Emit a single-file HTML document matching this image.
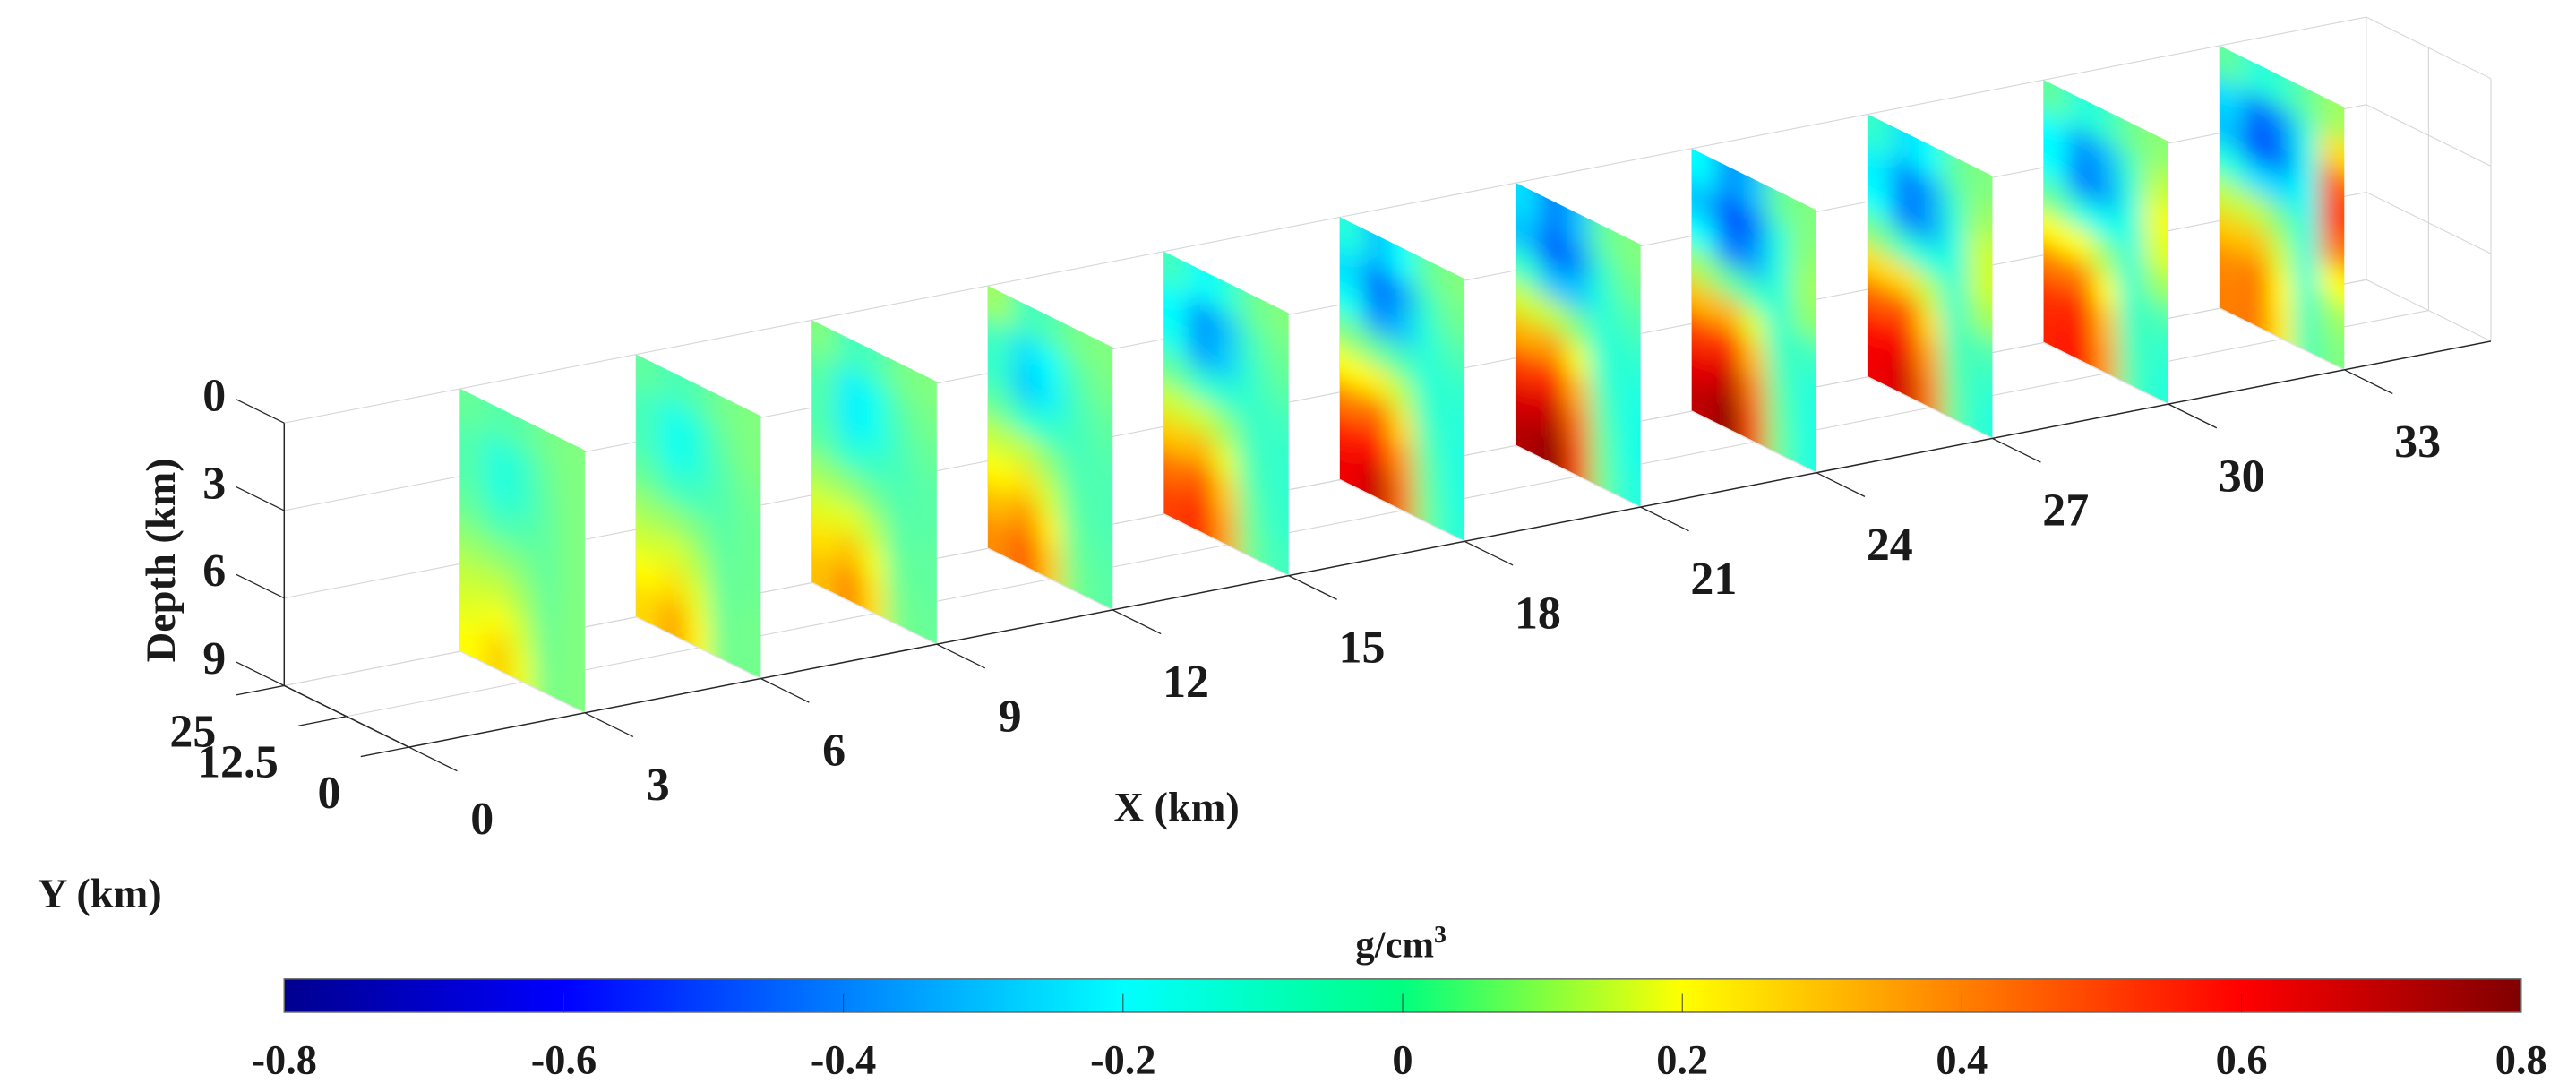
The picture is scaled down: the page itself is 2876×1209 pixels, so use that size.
<!DOCTYPE html>
<html><head><meta charset="utf-8"><style>
html,body{margin:0;padding:0;background:#fff;}
svg{display:block;}
text{font-family:"Liberation Serif",serif;font-weight:bold;fill:#1a1a1a;}
</style></head><body>
<svg id="chart" xmlns="http://www.w3.org/2000/svg" width="2876" height="1209" viewBox="0 0 1550 651.6" preserveAspectRatio="none">
<defs>
<filter id="blur" filterUnits="userSpaceOnUse" x="0" y="0" width="1550" height="651.6"><feGaussianBlur stdDeviation="7"/></filter>
<linearGradient id="jet" x1="0" x2="1" y1="0" y2="0">
<stop offset="0" stop-color="#00008f"/><stop offset="0.125" stop-color="#0000ff"/><stop offset="0.375" stop-color="#00ffff"/><stop offset="0.5" stop-color="#00ff80"/><stop offset="0.625" stop-color="#ffff00"/><stop offset="0.875" stop-color="#ff0000"/><stop offset="1" stop-color="#800000"/>
</linearGradient>
</defs>
<g id="grid"></g>
<g id="slices"></g>
<g id="grid2"></g>
<g id="axes"></g>
<text x="0" y="0" font-size="25" text-anchor="middle" transform="translate(105,337) rotate(-90)">Depth (km)</text>
<text x="708" y="494" font-size="25" text-anchor="middle">X (km)</text>
<text x="60" y="546" font-size="25" text-anchor="middle">Y (km)</text>
<g>
<text x="843" y="576" font-size="23" text-anchor="middle">g/cm<tspan font-size="15" dy="-9">3</tspan></text>
<rect x="171" y="589" width="1346" height="20" fill="url(#jet)" stroke="#666" stroke-width="0.8"/>
<g id="cbticks"></g>
</g>
</svg>
<script>
const xTicks = [0,3,6,9,12,15,18,21,24,27,30,33];
const zTicks = [0,3,6,9];
const yTicks = [25,12.5,0];
const yTickLabels = ["25","12.5","0"];
const sliceX = [3,6,9,12,15,18,21,24,27,30,33];
const cbTicks = [-0.8,-0.6,-0.4,-0.2,0,0.2,0.4,0.6,0.8];
const cbTickLabels = ["-0.8","-0.6","-0.4","-0.2","0","0.2","0.4","0.6","0.8"];
// slice values: rows Z top->bottom (8), cols Y back(25)->front(0) (5)
const s3 = [[-0.04,-0.07,-0.06,-0.02,0],[-0.07,-0.15,-0.12,-0.04,0],[-0.07,-0.15,-0.12,-0.05,0],[-0.04,-0.09,-0.07,-0.05,0],[0.03,0.02,0,-0.05,0],[0.1,0.11,0.06,-0.04,0],[0.15,0.2,0.12,-0.03,0],[0.2,0.28,0.17,-0.02,0]];
const s6 = [[-0.05,-0.09,-0.07,-0.02,0],[-0.09,-0.18,-0.14,-0.05,0],[-0.09,-0.18,-0.14,-0.07,-0.02],[-0.05,-0.1,-0.09,-0.07,-0.03],[0.04,0.03,0,-0.06,-0.03],[0.12,0.14,0.08,-0.05,-0.03],[0.2,0.25,0.15,-0.04,-0.02],[0.26,0.35,0.21,-0.03,-0.02]];
const s9 = [[0,-0.1,-0.09,-0.02,0],[-0.06,-0.22,-0.18,-0.07,-0.02],[-0.08,-0.22,-0.18,-0.09,-0.04],[-0.06,-0.13,-0.11,-0.09,-0.06],[0.04,0.02,-0.02,-0.07,-0.06],[0.14,0.16,0.09,-0.06,-0.05],[0.24,0.3,0.18,-0.04,-0.05],[0.3,0.4,0.24,-0.02,-0.04]];
const s12 = [[0.05,-0.1,-0.08,-0.02,0],[-0.1,-0.25,-0.2,-0.08,-0.02],[-0.12,-0.28,-0.22,-0.1,-0.05],[-0.05,-0.12,-0.12,-0.1,-0.07],[0.1,0.1,0.02,-0.08,-0.08],[0.2,0.25,0.12,-0.06,-0.08],[0.3,0.38,0.22,-0.04,-0.07],[0.38,0.47,0.28,-0.02,-0.06]];
const s15 = [[-0.1,-0.2,-0.15,-0.04,0],[-0.2,-0.38,-0.3,-0.1,-0.03],[-0.18,-0.35,-0.28,-0.12,-0.06],[-0.05,-0.12,-0.12,-0.12,-0.1],[0.12,0.12,0.04,-0.1,-0.12],[0.28,0.32,0.16,-0.08,-0.12],[0.42,0.48,0.28,-0.05,-0.12],[0.5,0.55,0.34,-0.03,-0.1]];
const s18 = [[-0.15,-0.3,-0.2,-0.05,0],[-0.25,-0.45,-0.35,-0.12,-0.03],[-0.18,-0.38,-0.3,-0.14,-0.08],[0,-0.05,-0.08,-0.14,-0.12],[0.2,0.22,0.1,-0.12,-0.14],[0.4,0.45,0.25,-0.08,-0.15],[0.55,0.6,0.36,-0.05,-0.15],[0.62,0.7,0.42,-0.03,-0.14]];
const s21 = [[-0.25,-0.42,-0.3,-0.05,0],[-0.3,-0.48,-0.38,-0.12,-0.03],[-0.12,-0.3,-0.28,-0.14,-0.08],[0.12,0.1,0,-0.14,-0.12],[0.32,0.36,0.18,-0.12,-0.15],[0.5,0.56,0.32,-0.08,-0.16],[0.65,0.7,0.42,-0.05,-0.16],[0.72,0.78,0.48,-0.03,-0.15]];
const s24 = [[-0.2,-0.38,-0.3,-0.05,0],[-0.3,-0.5,-0.42,-0.15,0.02],[-0.2,-0.42,-0.35,-0.15,0.05],[0.05,-0.05,-0.1,-0.14,0.02],[0.3,0.32,0.15,-0.12,-0.1],[0.5,0.55,0.3,-0.08,-0.14],[0.63,0.7,0.4,-0.05,-0.15],[0.7,0.78,0.46,-0.03,-0.15]];
const s27 = [[-0.12,-0.25,-0.2,-0.05,0],[-0.22,-0.42,-0.35,-0.12,0.05],[-0.2,-0.42,-0.35,-0.15,0.12],[-0.02,-0.12,-0.15,-0.14,0.12],[0.25,0.25,0.1,-0.13,0.05],[0.45,0.48,0.25,-0.1,-0.08],[0.58,0.62,0.34,-0.07,-0.12],[0.62,0.68,0.4,-0.05,-0.14]];
const s30 = [[-0.05,-0.15,-0.12,-0.03,0.02],[-0.2,-0.38,-0.32,-0.12,0.1],[-0.2,-0.42,-0.35,-0.15,0.18],[-0.05,-0.15,-0.18,-0.15,0.15],[0.2,0.2,0.05,-0.14,0.05],[0.4,0.42,0.2,-0.12,-0.08],[0.52,0.56,0.3,-0.1,-0.12],[0.55,0.6,0.35,-0.08,-0.14]];
const s33 = [[-0.05,-0.15,-0.12,-0.05,0.05],[-0.25,-0.45,-0.38,-0.15,0.25],[-0.3,-0.5,-0.42,-0.18,0.45],[-0.15,-0.25,-0.25,-0.18,0.5],[0.1,0.1,0,-0.16,0.4],[0.28,0.3,0.12,-0.15,0.2],[0.38,0.42,0.2,-0.12,0.05],[0.4,0.42,0.22,-0.1,0]];
const sliceValues = [s3,s6,s9,s12,s15,s18,s21,s24,s27,s30,s33];

const NS = "http://www.w3.org/2000/svg";
const XMAX = 35.5, YMAX = 25, ZMAX = 9;
function P(X,Y,Z){ return [171 + 35.29*X + (25-Y)*3.0, 254.5 - 6.88*X + 17.56*Z + (25-Y)*1.48]; }
function mk(tag, attrs, parent){ const e=document.createElementNS(NS,tag); for(const k in attrs) e.setAttribute(k,attrs[k]); parent.appendChild(e); return e; }
function line(a,b,stroke,w,parent,name){
  const e=mk('line',{x1:a[0],y1:a[1],x2:b[0],y2:b[1],stroke:stroke,'stroke-width':w},parent);
  
  
  return e;
}
function jet(v){
  const t=(v+0.8)/1.6; const c=x=>Math.round(255*Math.max(0,Math.min(1,x)));
  return `rgb(${c(1.5-Math.abs(4*t-3))},${c(1.5-Math.abs(4*t-2))},${c(1.5-Math.abs(4*t-1))})`;
}
const grid=document.getElementById('grid'), grid2=document.getElementById('grid2'), axes=document.getElementById('axes');
const GC='#d6d6d6', GW=0.6;
zTicks.forEach(z=>line(P(0,25,z),P(XMAX,25,z),GC,GW,grid,'back-grid-z'));
xTicks.forEach(x=>line(P(x,25,0),P(x,25,9),GC,GW,grid,'back-grid-x'));
yTicks.forEach(y=>line(P(0,y,9),P(XMAX,y,9),GC,GW,grid,'floor-grid-y'));
zTicks.forEach(z=>line(P(XMAX,25,z),P(XMAX,0,z),GC,GW,grid,'right-grid-z'));
yTicks.forEach(y=>line(P(XMAX,y,0),P(XMAX,y,9),GC,GW,grid,'right-grid-y'));
const slices=document.getElementById('slices');
const NR=8, NC=5, dY=YMAX/NC, dZ=ZMAX/NR;
sliceValues.forEach((vals,k)=>{
  const X=sliceX[k];
  const cp=mk('clipPath',{id:'clip'+k},document.querySelector('defs'));
  const poly=[P(X,25,0),P(X,0,0),P(X,0,9),P(X,25,9)];
  mk('polygon',{points:poly.map(p=>p.join(',')).join(' ')},cp);
  const outer=mk('g',{'clip-path':`url(#clip${k})`},slices);
  
  
  const inner=mk('g',{filter:'url(#blur)'},outer);
  for(let r=0;r<NR;r++){ for(let c=0;c<NC;c++){
    let Y0=25-c*dY, Y1=Y0-dY, Z0=r*dZ, Z1=Z0+dZ;
    if(c===0) Y0+=3*dY; if(c===NC-1) Y1-=3*dY; if(r===0) Z0-=2*dZ; if(r===NR-1) Z1+=2*dZ;
    const pts=[P(X,Y0,Z0),P(X,Y1,Z0),P(X,Y1,Z1),P(X,Y0,Z1)];
    const cell=mk('polygon',{points:pts.map(p=>p.map(v=>v.toFixed(2)).join(',')).join(' '),fill:jet(vals[r][c]),stroke:jet(vals[r][c]),'stroke-width':0.6},inner);
    
    
  }}
});
xTicks.forEach(x=>line(P(x,25,9),P(x,0,9),'#e4e4e4',0.8,grid2,'floor-grid-x'));
const AC='#262626';
line(P(0,25,0),P(0,25,9),AC,0.8,axes,'z-axis-line');
line(P(0,25,9),P(0,0,9),AC,0.8,axes,'y-axis-line');
line(P(0,0,9),P(XMAX,0,9),AC,0.8,axes,'x-axis-line');
xTicks.forEach(x=>{
  const a=P(x,0,9), b=P(x,-9.7,9);
  line(a,b,AC,0.7,axes,'x-tick');
  const t=mk('text',{x:b[0]+15,y:b[1]+38,'font-size':28,'text-anchor':'middle'},axes); t.textContent=x;
  
  
});
zTicks.forEach(z=>{
  const a=P(0,25,z), b=P(0,34.7,z);
  line(a,b,AC,0.7,axes,'z-tick');
  const t=mk('text',{x:b[0]-6,y:b[1]+7,'font-size':28,'text-anchor':'end'},axes); t.textContent=z;
  
  
});
yTicks.forEach((y,i)=>{
  const a=P(0,y,9), b=P(-0.82,y,9);
  line(a,b,AC,0.7,axes,'y-tick');
  const t=mk('text',{x:b[0]-12,y:b[1]+31,'font-size':28,'text-anchor':'end'},axes); t.textContent=yTickLabels[i];
  
  
});
const cbg=document.getElementById('cbticks');
const cbX=v=>171+(v+0.8)/1.6*1346;
cbTicks.forEach((v,i)=>{
  if(i>0 && i<cbTicks.length-1) line([cbX(v),598],[cbX(v),609],'#333',0.5,cbg,'colorbar-tick');
  const t=mk('text',{x:cbX(v),y:646,'font-size':25,'text-anchor':'middle'},cbg); t.textContent=cbTickLabels[i];
  
  
});
</script>
</body></html>
